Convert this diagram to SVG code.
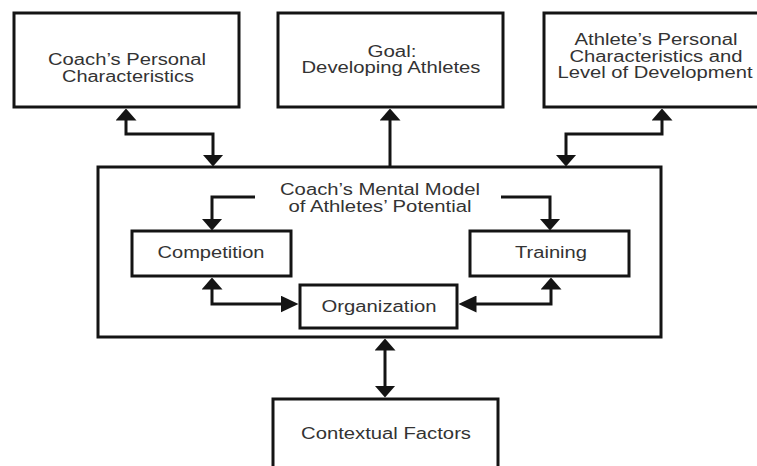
<svg xmlns="http://www.w3.org/2000/svg" width="757" height="466" viewBox="0 0 757 466">
  <defs>
    <style>
      .box { fill: #ffffff; stroke: #141414; stroke-width: 3; }
      .link { fill: none; stroke: #141414; stroke-width: 3; stroke-linecap: butt; stroke-linejoin: miter; }
      .lbl { font-family: "Liberation Sans", Arial, Helvetica, sans-serif; font-size: 16px; fill: #333333; text-anchor: middle; }
    </style>
    <!-- arrowhead for vertical runs: short and wide -->
    <marker id="ah-v" markerUnits="userSpaceOnUse" viewBox="0 0 12 21" markerWidth="12" markerHeight="21" refX="6" refY="10.5" orient="auto-start-reverse">
      <path d="M0,0 L12,10.5 L0,21 Z" fill="#141414"/>
    </marker>
    <!-- arrowhead for horizontal runs: longer and narrower -->
    <marker id="ah-h" markerUnits="userSpaceOnUse" viewBox="0 0 18 17" markerWidth="18" markerHeight="17" refX="10" refY="8.5" orient="auto-start-reverse">
      <path d="M0,0 L18,8.5 L0,17 Z" fill="#141414"/>
    </marker>
  </defs>

  <rect width="757" height="466" fill="#ffffff"/>

  <g id="coach-characteristics">
    <rect class="box" x="14" y="13" width="225" height="94"/>
    <text class="lbl" x="127" y="65" textLength="158" lengthAdjust="spacingAndGlyphs">Coach’s Personal</text>
    <text class="lbl" x="128" y="82" textLength="132" lengthAdjust="spacingAndGlyphs">Characteristics</text>
  </g>

  <g id="goal">
    <rect class="box" x="278" y="13" width="225" height="94"/>
    <text class="lbl" x="392" y="57" textLength="49" lengthAdjust="spacingAndGlyphs">Goal:</text>
    <text class="lbl" x="391" y="73" textLength="179" lengthAdjust="spacingAndGlyphs">Developing Athletes</text>
  </g>

  <g id="athlete-characteristics">
    <rect class="box" x="544" y="13" width="230" height="94"/>
    <text class="lbl" x="656" y="45" textLength="163" lengthAdjust="spacingAndGlyphs">Athlete’s Personal</text>
    <text class="lbl" x="656" y="62" textLength="173" lengthAdjust="spacingAndGlyphs">Characteristics and</text>
    <text class="lbl" x="655" y="78" textLength="195" lengthAdjust="spacingAndGlyphs">Level of Development</text>
  </g>

  <g id="mental-model">
    <rect class="box" x="98" y="167" width="563" height="170"/>
    <text class="lbl" x="380" y="195" textLength="200" lengthAdjust="spacingAndGlyphs">Coach’s Mental Model</text>
    <text class="lbl" x="380" y="212" textLength="183" lengthAdjust="spacingAndGlyphs">of Athletes’ Potential</text>
  </g>

  <g id="competition">
    <rect class="box" x="132" y="231" width="159" height="45"/>
    <text class="lbl" x="211" y="258" textLength="107" lengthAdjust="spacingAndGlyphs">Competition</text>
  </g>

  <g id="training">
    <rect class="box" x="470" y="231" width="159" height="45"/>
    <text class="lbl" x="551" y="258" textLength="72" lengthAdjust="spacingAndGlyphs">Training</text>
  </g>

  <g id="organization">
    <rect class="box" x="300" y="285" width="157" height="43"/>
    <text class="lbl" x="379" y="312" textLength="115" lengthAdjust="spacingAndGlyphs">Organization</text>
  </g>

  <g id="contextual-factors">
    <rect class="box" x="273" y="399" width="225" height="90"/>
    <text class="lbl" x="386" y="439" textLength="170" lengthAdjust="spacingAndGlyphs">Contextual Factors</text>
  </g>

  <g id="connectors">
    <path class="link" d="M126,114.5 V134 H213 V160.5" marker-start="url(#ah-v)" marker-end="url(#ah-v)"/>
    <path class="link" d="M390,167 V114.5" marker-end="url(#ah-v)"/>
    <path class="link" d="M662,114.5 V134 H566 V160.5" marker-start="url(#ah-v)" marker-end="url(#ah-v)"/>
    <path class="link" d="M255,197 H212 V224.5" marker-end="url(#ah-v)"/>
    <path class="link" d="M501,197 H550 V224.5" marker-end="url(#ah-v)"/>
    <path class="link" d="M212,283.5 V304 H290.5" marker-start="url(#ah-v)" marker-end="url(#ah-h)"/>
    <path class="link" d="M551,283.5 V304 H466.5" marker-start="url(#ah-v)" marker-end="url(#ah-h)"/>
    <path class="link" d="M385,344.5 V391.5" marker-start="url(#ah-v)" marker-end="url(#ah-v)"/>
  </g>
</svg>
